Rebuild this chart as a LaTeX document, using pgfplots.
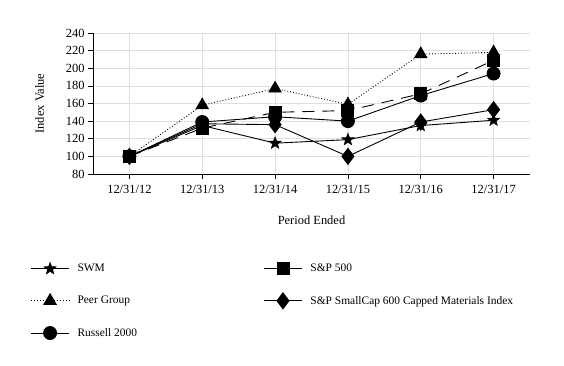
\documentclass[border=0pt]{standalone}
\usepackage{fontspec}
\setmainfont{Liberation Serif}
\usepackage{pgfplots}
\pgfplotsset{compat=1.18}
\pgfdeclareplotmark{fstar}{%
  \pgfpathmoveto{\pgfpointpolar{90}{\pgfplotmarksize}}%
  \pgfpathlineto{\pgfpointpolar{126}{0.42\pgfplotmarksize}}%
  \pgfpathlineto{\pgfpointpolar{162}{\pgfplotmarksize}}%
  \pgfpathlineto{\pgfpointpolar{198}{0.42\pgfplotmarksize}}%
  \pgfpathlineto{\pgfpointpolar{234}{\pgfplotmarksize}}%
  \pgfpathlineto{\pgfpointpolar{270}{0.42\pgfplotmarksize}}%
  \pgfpathlineto{\pgfpointpolar{306}{\pgfplotmarksize}}%
  \pgfpathlineto{\pgfpointpolar{342}{0.42\pgfplotmarksize}}%
  \pgfpathlineto{\pgfpointpolar{18}{\pgfplotmarksize}}%
  \pgfpathlineto{\pgfpointpolar{54}{0.42\pgfplotmarksize}}%
  \pgfpathclose
  \pgfusepathqfillstroke
}
\begin{document}
\begin{tikzpicture}
\begin{axis}[
  name=ax,
  scale only axis,
  width=437bp, height=141bp,
  xmin=-0.5, xmax=5.5, ymin=80, ymax=240,
  ytick={80,100,...,240},
  xtick={0,1,2,3,4,5},
  xticklabels={12/31/12,12/31/13,12/31/14,12/31/15,12/31/16,12/31/17},
  axis x line*=bottom, axis y line*=left,
  axis line style={line width=1pt, -},
  tick align=outside, major tick length=5bp,
  tick style={black, line width=0.6pt},
  grid=major, grid style={gray!25, line width=0.6pt},
  /pgf/number format/assume math mode=true,
  tick label style={font=\fontsize{12.5}{14}\selectfont},
  xticklabel style={yshift=-3bp},
  label style={font=\fontsize{12.5}{14}\selectfont},
  xlabel={Period Ended}, ylabel={Index Value},
  xlabel style={at={(axis description cs:0.5,-0.326)}, anchor=center},
  ylabel style={at={(axis description cs:-0.122,0.5)}, anchor=center},
  legend columns=2,
  legend cell align=left,
  legend style={draw=none, fill=none, at={(axis description cs:-0.15,-0.61)}, anchor=north west,
    font=\fontsize{11.5}{13}\selectfont, row sep=17.5bp},
  legend image code/.code={\draw[mark repeat=2,mark phase=2] plot coordinates {(0bp,0bp)(19bp,0bp)(38bp,0bp)};},
  every axis plot/.append style={black, line width=0.9pt, mark options={solid, fill=black}},
]
\addplot[mark=fstar, mark size=6.5bp, mark options={line width=0.4pt}] coordinates {(0,100)(1,135)(2,115)(3,119)(4,135)(5,141)};
\addlegendentry{\hspace*{6bp}\makebox[184bp][l]{SWM}}
\addplot[dash pattern=on 12bp off 8bp, mark=square*, mark size=6bp, legend image post style={solid}] coordinates {(0,100)(1,132)(2,150)(3,152)(4,171)(5,209)};
\addlegendentry{\hspace*{6bp}S\&P 500}
\addplot[dotted, mark=triangle*, mark size=7bp] coordinates {(0,100)(1,158)(2,177)(3,159)(4,216)(5,218)};
\addlegendentry{\hspace*{6bp}\makebox[184bp][l]{Peer Group}}
\addplot[mark=diamond*, mark size=8bp] coordinates {(0,100)(1,137)(2,136)(3,100)(4,139)(5,153)};
\addlegendentry{\hspace*{6bp}S\&P SmallCap 600 Capped Materials Index}
\addplot[mark=*, mark size=6.5bp] coordinates {(0,100)(1,139)(2,145)(3,140)(4,169)(5,194)};
\addlegendentry{\hspace*{6bp}Russell 2000}
\end{axis}
\path (ax.south west) ++(-93bp,-192bp) rectangle ++(564bp,366bp);
\end{tikzpicture}
\end{document}
